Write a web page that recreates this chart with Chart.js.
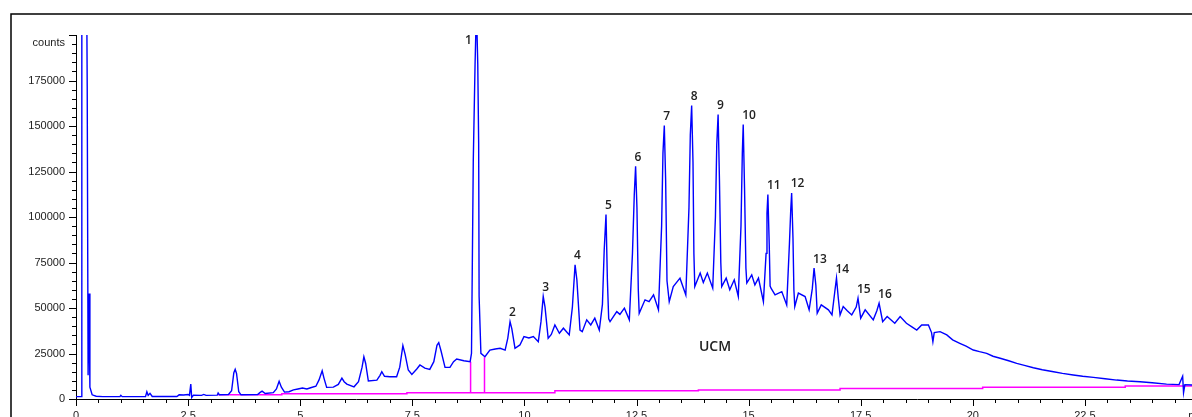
<!DOCTYPE html>
<html>
<head>
<meta charset="utf-8">
<script src="https://cdn.jsdelivr.net/npm/chart.js@4.4.1/dist/chart.umd.min.js"></script>
<style>
    html, body { margin: 0; padding: 0; background: #fff; overflow: hidden; }
    #wrap { position: absolute; left: 0; top: 0; width: 1240px; height: 440px; }
</style>
</head>
<body>
<div id="wrap"><canvas id="chromChart" width="1240" height="440"></canvas></div>
<script>
// retention time (min) and detector counts of the blue trace
const traceTimes = [
    0.00, 0.12, 0.13, 0.24, 0.25, 0.27, 0.29, 0.31, 0.36, 0.45, 0.60, 0.98, 1.00, 1.03, 1.55, 1.58, 1.61, 1.65, 1.70,
    2.25, 2.30, 2.40, 2.50, 2.53, 2.56, 2.58, 2.62, 2.80, 2.85, 2.90, 3.15, 3.17, 3.20, 3.40, 3.47, 3.52, 3.55, 3.58,
    3.63, 3.68, 4.05, 4.10, 4.15, 4.22, 4.40, 4.47, 4.53, 4.58, 4.65, 4.75, 4.85, 4.95, 5.05, 5.15, 5.25, 5.35, 5.42,
    5.49, 5.53, 5.59, 5.74, 5.85, 5.93, 5.98, 6.04, 6.20, 6.30, 6.38, 6.42, 6.46, 6.52, 6.71, 6.78, 6.82, 6.88, 7.00,
    7.15, 7.22, 7.29, 7.34, 7.41, 7.49, 7.60, 7.67, 7.78, 7.89, 7.98, 8.05, 8.09, 8.14, 8.23, 8.34, 8.42, 8.49, 8.65,
    8.79, 8.82, 8.86, 8.90, 8.93, 8.96, 8.98, 8.99, 9.03, 9.12, 9.23, 9.35, 9.46, 9.57, 9.63, 9.68, 9.72, 9.79, 9.90,
    9.99, 10.10, 10.20, 10.31, 10.37, 10.42, 10.46, 10.53, 10.60, 10.68, 10.78, 10.87, 11.00, 11.07, 11.13, 11.17,
    11.24, 11.29, 11.39, 11.48, 11.57, 11.67, 11.74, 11.78, 11.82, 11.85, 11.88, 11.91, 12.06, 12.13, 12.23, 12.34,
    12.41, 12.45, 12.48, 12.51, 12.54, 12.56, 12.69, 12.78, 12.88, 12.99, 13.06, 13.09, 13.12, 13.15, 13.18, 13.23,
    13.32, 13.47, 13.60, 13.67, 13.70, 13.73, 13.76, 13.78, 13.80, 13.92, 13.99, 14.08, 14.20, 14.26, 14.29, 14.32,
    14.35, 14.38, 14.40, 14.50, 14.58, 14.68, 14.77, 14.83, 14.86, 14.88, 14.91, 14.94, 14.96, 15.07, 15.14, 15.22,
    15.33, 15.39, 15.41, 15.43, 15.46, 15.48, 15.50, 15.59, 15.74, 15.85, 15.91, 15.94, 15.96, 15.99, 16.01, 16.03,
    16.11, 16.26, 16.35, 16.42, 16.46, 16.50, 16.53, 16.62, 16.78, 16.86, 16.92, 16.96, 17.00, 17.04, 17.11, 17.20,
    17.30, 17.40, 17.44, 17.50, 17.60, 17.78, 17.86, 17.91, 17.99, 18.09, 18.26, 18.38, 18.52, 18.65, 18.75, 18.86,
    19.01, 19.08, 19.11, 19.14, 19.27, 19.42, 19.55, 19.71, 19.85, 20.01, 20.15, 20.31, 20.45, 20.61, 20.80, 20.98,
    21.15, 21.35, 21.55, 21.80, 22.00, 22.24, 22.45, 22.69, 22.95, 23.21, 23.45, 23.73, 24.00, 24.32, 24.60, 24.68,
    24.70, 24.73, 24.89, 25.00
];
const traceCounts = [
    1300, 1300, 215000, 215000, 172000, 13000, 58000, 6500, 2300, 1500, 1300, 1300, 2000, 1300, 1300, 4000, 2000, 3100, 1400,
    1400, 2300, 2200, 2500, 2000, 8200, 800, 2100, 2000, 2500, 2000, 2100, 3300, 2300, 2500, 4500, 14500, 16300, 14000,
    4000, 2300, 2500, 3500, 4300, 3000, 3500, 5500, 9700, 6500, 3800, 4000, 5000, 5500, 6000, 5500, 6300, 7000, 10500,
    15500, 11500, 6400, 6500, 8000, 11500, 9500, 8200, 6700, 9500, 17500, 23200, 19500, 9900, 10400, 13000, 15000, 12500, 12200,
    12200, 17500, 29300, 24500, 15900, 13500, 16500, 18700, 17000, 16300, 20500, 29500, 31000, 26500, 17400, 17400, 20500, 22000, 21000,
    20500, 25100, 131000, 184300, 215000, 184000, 140400, 56300, 25100, 23200, 26900, 27500, 27900, 26900, 33500, 42500, 38500, 27900, 29700,
    34300, 33500, 34300, 31500, 42500, 56300, 50500, 33400, 35500, 40700, 36100, 38900, 35200, 50500, 73700, 65500,
    37900, 37000, 43500, 40700, 44400, 37900, 52000, 82000, 101300, 66000, 44000, 42500, 48000, 46500, 49900, 43500,
    80000, 112000, 127900, 105000, 60000, 47100, 54500, 53500, 57200, 49000, 95000, 135000, 150300, 120000, 65000, 53500,
    61800, 66400, 57200, 105000, 145000, 161300, 130000, 80000, 61800, 69200, 64000, 69200, 60900, 100000, 140000, 156300,
    120000, 75000, 61800, 66400, 60000, 65500, 56300, 95000, 135000, 150800, 115000, 72000, 63700, 68200, 62700, 66400,
    53500, 80000, 102000, 112300, 85000, 62000, 60900, 57200, 59000, 51700, 85000, 104000, 113200, 88000, 60000, 50800,
    58200, 56300, 49000, 60500, 71900, 62500, 47100, 51700, 49000, 46200, 58500, 66400, 55500, 46200, 50800, 48500,
    46200, 50500, 55400, 44400, 49000, 43500, 48500, 52600, 42500, 45300, 41600, 45300, 41600, 39500, 37900, 40700,
    40700, 36500, 31500, 36500, 37000, 35200, 32500, 30600, 29000, 26900, 26000, 25100, 23500, 22400, 21000, 19600,
    18500, 17200, 16100, 15000, 14100, 13200, 12500, 11900, 11100, 10400, 9900, 9500, 8900, 8200, 7900, 12500,
    3500, 7900, 7700, 7600
];

// integration baseline (magenta), with the two drop lines round peak 1
const baselineTimes = [3.17, 4.59, 4.59, 7.38, 7.38, 8.80, 8.80, 8.80, 9.11, 9.11, 9.11, 10.68, 10.68, 13.88, 13.88, 17.04, 17.04, 20.22, 20.22, 23.40, 23.40, 25.00];
const baselineCounts = [2400, 2400, 2900, 2900, 3400, 3400, 20500, 3400, 3400, 23000, 3400, 3400, 4500, 4500, 4900, 4900, 5800, 5800, 6400, 6400, 7100, 7100];

// numbered peaks
const peakNames = ['1', '2', '3', '4', '5', '6', '7', '8', '9', '10', '11', '12', '13', '14', '15', '16'];
const peakTimes = [8.92, 9.68, 10.42, 11.13, 11.82, 12.48, 13.12, 13.73, 14.32, 14.88, 15.43, 15.96, 16.46, 16.96, 17.44, 17.91];
const peakHeights = [215000, 42500, 56300, 73700, 101300, 127900, 150300, 161300, 156300, 150800, 112300, 113200, 71900, 66400, 55400, 52600];

// axis ticks
const xMajorTicks = [0, 2.5, 5, 7.5, 10, 12.5, 15, 17.5, 20, 22.5];
const yMajorTicks = [0, 25000, 50000, 75000, 100000, 125000, 150000, 175000];
const xUnitLabel = 'min';
const yUnitLabel = 'counts';
const humpLabel = { text: 'UCM', time: 14.25, counts: 28700 };

document.addEventListener("DOMContentLoaded", () => {
    initChromChart();
});

function initChromChart() {
    const axisFont = { family: "'Liberation Sans', Arial, sans-serif", size: 11 };

    const toPoints = (xs, ys) => xs.map((t, i) => ({ x: t, y: ys[i] }));

    // outer frame, tick marks, peak numbers and text labels
    const decorPlugin = {
        id: 'decor',
        beforeDraw(chart) {
            const ctx = chart.ctx;
            ctx.save();
            ctx.strokeStyle = '#000';
            ctx.lineWidth = 1.5;
            ctx.strokeRect(11, 14, 1300, 500);
            ctx.restore();
        },
        afterDraw(chart) {
            const { ctx, chartArea, scales: { x, y } } = chart;
            ctx.save();
            ctx.strokeStyle = '#000';
            ctx.lineWidth = 1;

            y.ticks.forEach(t => {
                const py = Math.round(y.getPixelForValue(t.value)) + 0.5;
                const len = (t.value % 25000 === 0) ? 7 : 4;
                ctx.beginPath();
                ctx.moveTo(chartArea.left - len, py);
                ctx.lineTo(chartArea.left, py);
                ctx.stroke();
            });
            x.ticks.forEach(t => {
                const px = Math.round(x.getPixelForValue(t.value)) + 0.5;
                const len = (Math.abs(t.value / 2.5 - Math.round(t.value / 2.5)) < 1e-6) ? 7 : 4;
                ctx.beginPath();
                ctx.moveTo(px, chartArea.bottom);
                ctx.lineTo(px, chartArea.bottom + len);
                ctx.stroke();
            });

            ctx.fillStyle = '#222';
            ctx.font = "11px 'Liberation Sans', Arial, sans-serif";
            ctx.textAlign = 'right';
            ctx.textBaseline = 'middle';
            ctx.fillText(yUnitLabel, chartArea.left - 11, chartArea.top + 8);

            ctx.font = "600 12px 'Open Sans', sans-serif";
            ctx.textBaseline = 'bottom';
            peakNames.forEach((name, i) => {
                const px = x.getPixelForValue(peakTimes[i]);
                let py = y.getPixelForValue(peakHeights[i]) - 3;
                if (py < chartArea.top + 12) {
                    ctx.textAlign = 'right';
                    ctx.fillText(name, px - 4, chartArea.top + 12);
                } else {
                    ctx.textAlign = 'left';
                    ctx.fillText(name, px - 1, py);
                }
            });

            ctx.font = "600 14px 'Open Sans', sans-serif";
            ctx.textAlign = 'center';
            ctx.textBaseline = 'middle';
            ctx.fillText(humpLabel.text, x.getPixelForValue(humpLabel.time), y.getPixelForValue(humpLabel.counts));
            ctx.restore();
        }
    };

    const ctx = document.getElementById('chromChart').getContext('2d');
    new Chart(ctx, {
        type: 'line',
        data: {
            datasets: [{
                label: 'Signal',
                data: toPoints(traceTimes, traceCounts),
                borderColor: '#0000ff',
                borderWidth: 1.4,
                pointRadius: 0,
                tension: 0,
                fill: false
            }, {
                label: 'Baseline',
                data: toPoints(baselineTimes, baselineCounts),
                borderColor: '#ff00ff',
                borderWidth: 1.5,
                pointRadius: 0,
                tension: 0,
                fill: false
            }]
        },
        options: {
            responsive: false,
            animation: false,
            devicePixelRatio: 1,
            layout: { padding: { left: 0, top: 35, right: 43, bottom: 0 } },
            scales: {
                x: {
                    type: 'linear',
                    min: 0,
                    max: 25,
                    grid: { display: false, drawTicks: false },
                    border: { display: true, color: '#000', width: 1 },
                    afterFit: scale => { scale.height = 41; },
                    ticks: {
                        stepSize: 0.5,
                        autoSkip: false,
                        maxRotation: 0,
                        padding: 10,
                        color: '#222',
                        font: axisFont,
                        callback: v => {
                            if (Math.abs(v - 25) < 1e-6) return xUnitLabel;
                            const hit = xMajorTicks.find(m => Math.abs(m - v) < 1e-6);
                            return hit === undefined ? '' : String(hit);
                        }
                    }
                },
                y: {
                    min: 0,
                    max: 200000,
                    grid: { display: false, drawTicks: false },
                    border: { display: true, color: '#000', width: 1 },
                    afterFit: scale => { scale.width = 76; },
                    ticks: {
                        stepSize: 5000,
                        autoSkip: false,
                        padding: 11,
                        color: '#222',
                        font: axisFont,
                        callback: v => yMajorTicks.includes(v) ? String(v) : ''
                    }
                }
            },
            plugins: {
                legend: { display: false },
                tooltip: { enabled: false }
            }
        },
        plugins: [decorPlugin]
    });
}
</script>
</body>
</html>
